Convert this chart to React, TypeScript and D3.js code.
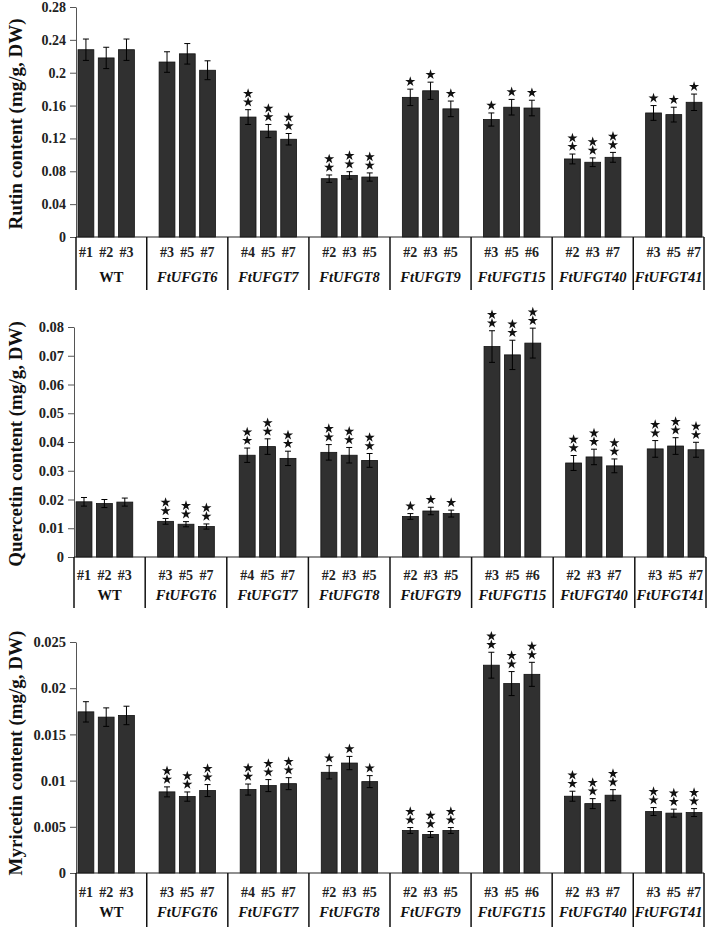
import * as d3 from 'd3';
import { useEffect, useRef } from 'react';

// groups and lines (shared by the three panels)
const groups = ['WT', 'FtUFGT6', 'FtUFGT7', 'FtUFGT8', 'FtUFGT9', 'FtUFGT15', 'FtUFGT40', 'FtUFGT41'];
const lineLabels = [
  ['#1', '#2', '#3'],
  ['#3', '#5', '#7'],
  ['#4', '#5', '#7'],
  ['#2', '#3', '#5'],
  ['#2', '#3', '#5'],
  ['#3', '#5', '#6'],
  ['#2', '#3', '#7'],
  ['#3', '#5', '#7'],
];

// Rutin
const rutinValues = [
  0.228, 0.218, 0.228, 0.213, 0.223, 0.203, 0.146, 0.129, 0.119, 0.071, 0.075, 0.073,
  0.170, 0.178, 0.156, 0.143, 0.158, 0.157, 0.095, 0.091, 0.097, 0.151, 0.149, 0.164,
];
const rutinErrors = [
  0.013, 0.013, 0.013, 0.0125, 0.0125, 0.0115, 0.009, 0.008, 0.007, 0.0045, 0.0045, 0.005,
  0.010, 0.0105, 0.0095, 0.008, 0.0095, 0.0095, 0.006, 0.0053, 0.006, 0.009, 0.009, 0.010,
];
const rutinStars = [0, 0, 2, 2, 1, 1, 2, 1];
const rutinTicks = [0, 0.04, 0.08, 0.12, 0.16, 0.2, 0.24, 0.28];
const rutinTickLabels = ['0', '0.04', '0.08', '0.12', '0.16', '0.2', '0.24', '0.28'];

// Quercetin
const quercetinValues = [
  0.0192, 0.0186, 0.0191, 0.0124, 0.0114, 0.0106, 0.0354, 0.0384, 0.0343, 0.0364, 0.0354, 0.0336,
  0.0141, 0.016, 0.0151, 0.0732, 0.0703, 0.0744, 0.0327, 0.0348, 0.0317, 0.0376, 0.0386, 0.0373,
];
const quercetinErrors = [
  0.0015, 0.0014, 0.0014, 0.001, 0.0009, 0.0009, 0.0025, 0.0027, 0.0025, 0.0027, 0.0027, 0.0024,
  0.001, 0.0013, 0.0012, 0.0055, 0.0051, 0.0052, 0.0026, 0.0027, 0.0024, 0.0029, 0.0029, 0.0026,
];
const quercetinStars = [0, 2, 2, 2, 1, 2, 2, 2];
const quercetinTicks = [0, 0.01, 0.02, 0.03, 0.04, 0.05, 0.06, 0.07, 0.08];
const quercetinTickLabels = ['0', '0.01', '0.02', '0.03', '0.04', '0.05', '0.06', '0.07', '0.08'];

// Myricetin
const myricetinValues = [
  0.01744, 0.01687, 0.01705, 0.00878, 0.00827, 0.00892, 0.00903, 0.00946, 0.00967, 0.0109, 0.0119, 0.00989,
  0.0046, 0.00417, 0.0046, 0.02249, 0.0205, 0.0215, 0.00831, 0.00751, 0.00842, 0.00665, 0.00648, 0.00654,
];
const myricetinErrors = [
  0.0011, 0.001, 0.001, 0.00054, 0.0005, 0.00065, 0.0006, 0.00065, 0.00065, 0.00072, 0.00072, 0.00065,
  0.00032, 0.00032, 0.00032, 0.0014, 0.0013, 0.0013, 0.00054, 0.00054, 0.0006, 0.00043, 0.00043, 0.00043,
];
const myricetinStars = [0, 2, 2, 1, 2, 2, 2, 2];
const myricetinTicks = [0, 0.005, 0.01, 0.015, 0.02, 0.025];
const myricetinTickLabels = ['0', '0.005', '0.01', '0.015', '0.02', '0.025'];

const FONT = '"Liberation Serif", "Times New Roman", serif';

const panels = [
  {
    title: 'Rutin content (mg/g, DW)', values: rutinValues, errors: rutinErrors, stars: rutinStars,
    ticks: rutinTicks, tickLabels: rutinTickLabels,
    top: 7, base: 237, left: 76, right: 704, sepEnd: 290, lineY: 257, groupY: 282, titleY: 124, tickFont: 14,
  },
  {
    title: 'Quercetin content (mg/g, DW)', values: quercetinValues, errors: quercetinErrors, stars: quercetinStars,
    ticks: quercetinTicks, tickLabels: quercetinTickLabels,
    top: 327, base: 557, left: 74, right: 706, sepEnd: 608, lineY: 580, groupY: 600, titleY: 444, tickFont: 14.5,
  },
  {
    title: 'Myricetin content (mg/g, DW)', values: myricetinValues, errors: myricetinErrors, stars: myricetinStars,
    ticks: myricetinTicks, tickLabels: myricetinTickLabels,
    top: 642, base: 873, left: 76, right: 704, sepEnd: 927, lineY: 897, groupY: 917, titleY: 753, tickFont: 14.5,
  },
];

export default function App() {
  const svgRef = useRef(null);

  useEffect(() => {
    if (!svgRef.current) return;
    const svg = d3.select(svgRef.current);
    svg.selectAll('*').remove();

    svg.append('rect').attr('width', 709).attr('height', 927).attr('fill', '#fff');

    const slots = d3.range(groups.length * 4 - 1);
    const star = d3.symbol(d3.symbolStar, 32);

    panels.forEach((p) => {
      const g = svg.append('g');
      const y = d3
        .scaleLinear()
        .domain([0, p.ticks[p.ticks.length - 1]])
        .range([p.base, p.top]);
      const x = d3
        .scaleBand<number>()
        .domain(slots)
        .range([p.left, p.right])
        .paddingInner(0.22)
        .paddingOuter(0.1);

      const bars = p.values.map((v, i) => {
        const gi = Math.floor(i / 3);
        const slot = gi * 4 + (i % 3);
        return { v, e: p.errors[i], slot, gi, cx: x(slot)! + x.bandwidth() / 2 };
      });

      // bars
      g.selectAll('rect.bar')
        .data(bars)
        .join('rect')
        .attr('x', (d) => x(d.slot)!)
        .attr('y', (d) => y(d.v))
        .attr('width', x.bandwidth())
        .attr('height', (d) => y(0) - y(d.v))
        .attr('fill', '#303030')
        .attr('stroke', '#111')
        .attr('stroke-width', 0.8);

      // error bars
      const eb = g.selectAll('g.err').data(bars).join('g').attr('stroke', '#000').attr('stroke-width', 1);
      eb.append('line')
        .attr('x1', (d) => d.cx).attr('x2', (d) => d.cx)
        .attr('y1', (d) => y(d.v - d.e)).attr('y2', (d) => y(d.v + d.e));
      eb.append('line')
        .attr('x1', (d) => d.cx - 3).attr('x2', (d) => d.cx + 3)
        .attr('y1', (d) => y(d.v + d.e)).attr('y2', (d) => y(d.v + d.e));
      eb.append('line')
        .attr('x1', (d) => d.cx - 3).attr('x2', (d) => d.cx + 3)
        .attr('y1', (d) => y(d.v - d.e)).attr('y2', (d) => y(d.v - d.e));

      // significance stars
      bars.forEach((d) => {
        const n = p.stars[d.gi];
        for (let k = 0; k < n; k++) {
          g.append('path')
            .attr('d', star()!)
            .attr('transform', `translate(${d.cx},${y(d.v + d.e) - 7.5 - k * 8.5})`)
            .attr('fill', '#111');
        }
      });

      // y axis
      const axis = g
        .append('g')
        .attr('transform', `translate(${p.left},0)`)
        .call(
          d3.axisLeft(y)
            .tickValues(p.ticks)
            .tickFormat((_, i) => p.tickLabels[i])
            .tickSize(6)
            .tickSizeOuter(0)
            .tickPadding(4)
        );
      axis.selectAll('path, line').attr('stroke', '#555');
      axis.selectAll('text')
        .attr('font-family', FONT)
        .attr('font-weight', 'bold')
        .attr('font-size', p.tickFont)
        .attr('fill', '#222');

      // x axis line
      g.append('line')
        .attr('x1', p.left).attr('x2', p.right)
        .attr('y1', y(0)).attr('y2', y(0))
        .attr('stroke', '#222').attr('stroke-width', 1.2);

      // group separators
      const seps = [p.left, ...groups.slice(0, -1).map((_, gi) => x(gi * 4 + 3)! + x.bandwidth() / 2), p.right];
      g.selectAll('line.sep')
        .data(seps)
        .join('line')
        .attr('x1', (d) => d).attr('x2', (d) => d)
        .attr('y1', y(0)).attr('y2', p.sepEnd)
        .attr('stroke', '#111').attr('stroke-width', 1.5);

      // line labels
      g.selectAll('text.line')
        .data(bars)
        .join('text')
        .attr('x', (d) => d.cx)
        .attr('y', p.lineY)
        .attr('text-anchor', 'middle')
        .attr('font-family', FONT)
        .attr('font-weight', 'bold')
        .attr('font-size', 14)
        .attr('fill', '#222')
        .text((d, i) => lineLabels[d.gi][i % 3]);

      // group labels, centred between their separators
      g.selectAll('text.group')
        .data(groups)
        .join('text')
        .attr('x', (_, gi) => (seps[gi] + seps[gi + 1]) / 2)
        .attr('y', p.groupY)
        .attr('text-anchor', 'middle')
        .attr('font-family', FONT)
        .attr('font-weight', 'bold')
        .attr('font-style', (d) => (d === 'WT' ? 'normal' : 'italic'))
        .attr('font-size', 14.5)
        .attr('fill', '#111')
        .text((d) => d);

      // y title
      g.append('text')
        .attr('transform', `translate(22,${p.titleY}) rotate(-90)`)
        .attr('text-anchor', 'middle')
        .attr('font-family', FONT)
        .attr('font-weight', 'bold')
        .attr('font-size', 19)
        .attr('fill', '#111')
        .text(p.title);
    });
  }, []);

  return (
    <svg
      ref={svgRef}
      width={709}
      height={927}
      style={{ position: 'absolute', left: 0, top: 0 }}
    />
  );
}
